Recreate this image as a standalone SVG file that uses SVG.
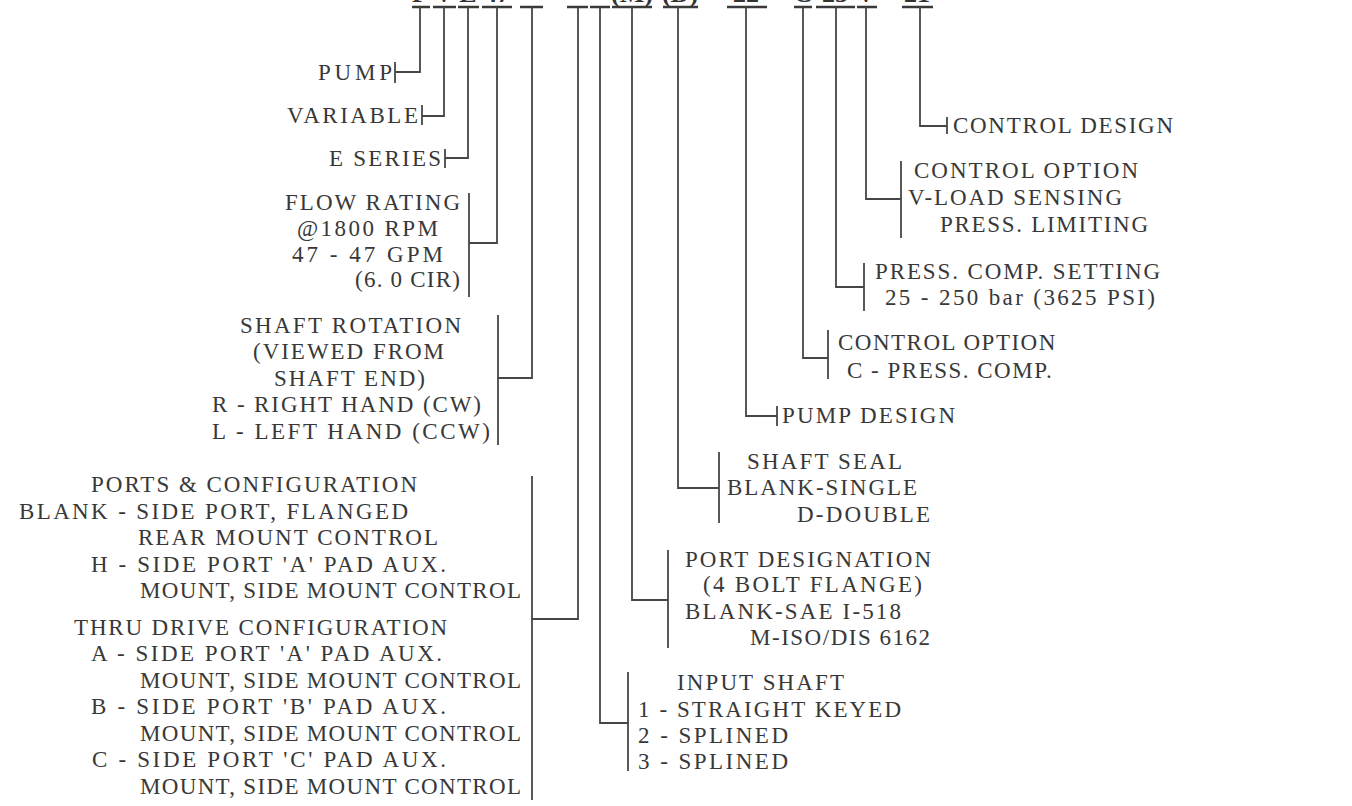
<svg xmlns="http://www.w3.org/2000/svg" width="1352" height="806" viewBox="0 0 1352 806">
<style>
text{font-family:"Liberation Serif","DejaVu Serif",serif;font-size:23px;fill:#383838}
.top{font-size:26px;font-weight:bold;fill:#333;text-anchor:middle}
.c{fill:none;stroke:#464646;stroke-width:1.8}
.t{fill:none;stroke:#3a3a3a;stroke-width:2.6}
.b{fill:none;stroke:#464646;stroke-width:1.8}
</style>
<rect width="1352" height="806" fill="#fff"/>
<g id="model-code">
<text class="top" x="420" y="2">P</text>
<text class="top" x="444" y="2">V</text>
<text class="top" x="468" y="2">E</text>
<text class="top" x="497" y="2">47</text>
<text class="top" x="632" y="2">(M)</text>
<text class="top" x="680" y="2">(D)</text>
<text class="top" x="746" y="2">22</text>
<text class="top" x="803" y="2">C</text>
<text class="top" x="835" y="2">25</text>
<text class="top" x="866" y="2">V</text>
<text class="top" x="917" y="2">21</text>
<path class="t" d="M412 7H430M433 7H456M458 7H479M482 7H512M520 7H543M567 7H588M590 7H610M612 7H652M663 7H698M727 7H767M794 7H812M816 7H855M857 7H877M902 7H933"/>
</g>
<g id="connectors">
<path class="c" d="M420 7V72H395"/>
<path class="c" d="M444 7V116H422"/>
<path class="c" d="M468 7V158H445"/>
<path class="c" d="M497 7V243H469"/>
<path class="c" d="M532 7V378H498"/>
<path class="c" d="M578 7V619H532"/>
<path class="c" d="M600 7V723H628"/>
<path class="c" d="M632 7V600H668"/>
<path class="c" d="M678 7V488H719"/>
<path class="c" d="M746 7V416H777"/>
<path class="c" d="M803 7V358H828"/>
<path class="c" d="M836 7V287H864"/>
<path class="c" d="M866 7V199H901"/>
<path class="c" d="M920 7V126H947"/>
</g>
<g id="pump">
<path class="b" d="M395 62V83"/>
<text x="318" y="80" textLength="74">PUMP</text>
</g>
<g id="variable">
<path class="b" d="M422 105V125"/>
<text x="287" y="123" textLength="131">VARIABLE</text>
</g>
<g id="e-series">
<path class="b" d="M445 149V168"/>
<text x="329" y="166" textLength="112">E SERIES</text>
</g>
<g id="flow-rating">
<path class="b" d="M469 193V297"/>
<text x="285" y="210" textLength="175">FLOW RATING</text>
<text x="297" y="236" textLength="141">@1800 RPM</text>
<text x="292" y="262" textLength="151">47 - 47 GPM</text>
<text x="355" y="287" textLength="105">(6. 0 CIR)</text>
</g>
<g id="shaft-rotation">
<path class="b" d="M498 315V445"/>
<text x="240" y="333" textLength="221">SHAFT ROTATION</text>
<text x="253" y="359" textLength="191">(VIEWED FROM</text>
<text x="274" y="386" textLength="151">SHAFT END)</text>
<text x="212" y="412" textLength="269">R - RIGHT HAND (CW)</text>
<text x="212" y="439" textLength="278">L - LEFT HAND (CCW)</text>
</g>
<g id="ports-configuration">
<path class="b" d="M532 476V800"/>
<text x="91" y="492" textLength="326">PORTS &amp; CONFIGURATION</text>
<text x="19" y="519" textLength="389">BLANK - SIDE PORT, FLANGED</text>
<text x="138" y="545" textLength="300">REAR MOUNT CONTROL</text>
<text x="91" y="572" textLength="355">H - SIDE PORT 'A' PAD AUX.</text>
<text x="140" y="598" textLength="381">MOUNT, SIDE MOUNT CONTROL</text>
<text x="74" y="635" textLength="373">THRU DRIVE CONFIGURATION</text>
<text x="91" y="661" textLength="351">A - SIDE PORT 'A' PAD AUX.</text>
<text x="140" y="688" textLength="381">MOUNT, SIDE MOUNT CONTROL</text>
<text x="91" y="714" textLength="355">B - SIDE PORT 'B' PAD AUX.</text>
<text x="140" y="741" textLength="381">MOUNT, SIDE MOUNT CONTROL</text>
<text x="92" y="767" textLength="354">C - SIDE PORT 'C' PAD AUX.</text>
<text x="140" y="794" textLength="381">MOUNT, SIDE MOUNT CONTROL</text>
</g>
<g id="input-shaft">
<path class="b" d="M628 672V771"/>
<text x="677" y="690" textLength="167">INPUT SHAFT</text>
<text x="638" y="717" textLength="263">1 - STRAIGHT KEYED</text>
<text x="638" y="743" textLength="150">2 - SPLINED</text>
<text x="638" y="769" textLength="150">3 - SPLINED</text>
</g>
<g id="port-designation">
<path class="b" d="M668 550V648"/>
<text x="685" y="567" textLength="246">PORT DESIGNATION</text>
<text x="703" y="592" textLength="219">(4 BOLT FLANGE)</text>
<text x="685" y="619" textLength="216">BLANK-SAE I-518</text>
<text x="750" y="645" textLength="180">M-ISO/DIS 6162</text>
</g>
<g id="shaft-seal">
<path class="b" d="M719 452V523"/>
<text x="747" y="469" textLength="155">SHAFT SEAL</text>
<text x="727" y="495" textLength="190">BLANK-SINGLE</text>
<text x="797" y="522" textLength="133">D-DOUBLE</text>
</g>
<g id="pump-design">
<path class="b" d="M777 406V426"/>
<text x="782" y="423" textLength="173">PUMP DESIGN</text>
</g>
<g id="control-option-c">
<path class="b" d="M828 330V379"/>
<text x="838" y="350" letter-spacing="1.5">CONTROL OPTION</text>
<text x="847" y="378" letter-spacing="1.5">C - PRESS. COMP.</text>
</g>
<g id="press-comp-setting">
<path class="b" d="M864 263V311"/>
<text x="875" y="279" textLength="285">PRESS. COMP. SETTING</text>
<text x="885" y="305" textLength="270">25 - 250 bar (3625 PSI)</text>
</g>
<g id="control-option-v">
<path class="b" d="M901 161V238"/>
<text x="914" y="178" textLength="224">CONTROL OPTION</text>
<text x="908" y="205" textLength="214">V-LOAD SENSING</text>
<text x="940" y="232" textLength="208">PRESS. LIMITING</text>
</g>
<g id="control-design">
<path class="b" d="M947 117V134"/>
<text x="953" y="133" textLength="220">CONTROL DESIGN</text>
</g>
</svg>
